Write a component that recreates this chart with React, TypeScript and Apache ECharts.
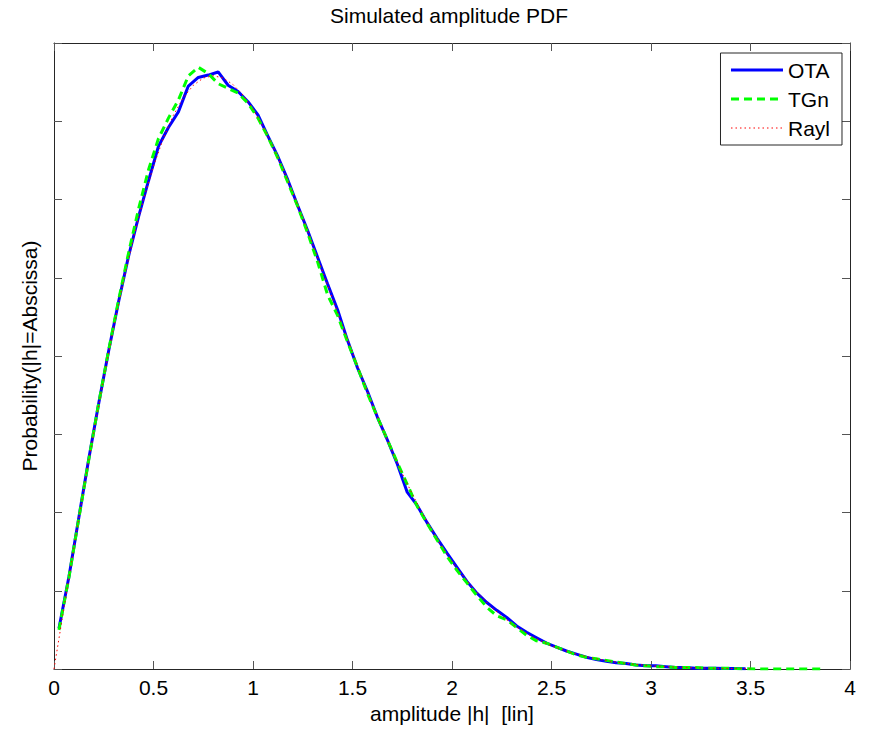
import React, { useEffect, useRef } from "react";
import * as echarts from "echarts";

const titleText = "Simulated amplitude PDF";
const xAxisName = "amplitude |h|  [lin]";
const yAxisName = "Probability(|h|=Abscissa)";
const seriesNames = ["OTA", "TGn", "Rayl"];
const xTickMin = 0;
const xTickMax = 4;
const xTickStep = 0.5;
const yTickMin = 0;
const yTickMax = 0.8;
const yTickStep = 0.1;

const otaX = [
  0.025, 0.075, 0.125, 0.175, 0.225, 0.275, 0.325, 0.375, 0.425, 0.475,
  0.525, 0.575, 0.625, 0.675, 0.725, 0.775, 0.825, 0.875, 0.925, 0.975,
  1.025, 1.075, 1.125, 1.175, 1.225, 1.275, 1.325, 1.375, 1.425, 1.475,
  1.525, 1.575, 1.625, 1.675, 1.725, 1.775, 1.825, 1.875, 1.925, 1.975,
  2.025, 2.075, 2.125, 2.175, 2.225, 2.275, 2.325, 2.375, 2.425, 2.475,
  2.525, 2.575, 2.625, 2.675, 2.725, 2.775, 2.825, 2.875, 2.925, 2.975,
  3.025, 3.075, 3.125, 3.175, 3.225, 3.275, 3.325, 3.375, 3.425, 3.475,
];
const otaY = [
  0.052, 0.118, 0.194, 0.269, 0.34, 0.407, 0.47, 0.528, 0.578, 0.624,
  0.668, 0.692, 0.712, 0.745, 0.756, 0.759, 0.763, 0.746, 0.738, 0.725,
  0.708, 0.681, 0.655, 0.625, 0.592, 0.56, 0.526, 0.492, 0.459, 0.42,
  0.385, 0.355, 0.322, 0.293, 0.262, 0.226, 0.209, 0.187, 0.167, 0.148,
  0.13, 0.112, 0.097, 0.085, 0.075, 0.066, 0.055, 0.047, 0.04, 0.033,
  0.028, 0.023, 0.019, 0.015, 0.012, 0.01, 0.008, 0.007, 0.005, 0.004,
  0.004, 0.003, 0.002, 0.002, 0.001, 0.001, 0.001, 0.0005, 0.0005, 0.0003,
];

const tgnX = [
  0.025, 0.075, 0.125, 0.175, 0.225, 0.275, 0.325, 0.375, 0.425, 0.475,
  0.525, 0.575, 0.625, 0.675, 0.725, 0.775, 0.825, 0.875, 0.925, 0.975,
  1.025, 1.075, 1.125, 1.175, 1.225, 1.275, 1.325, 1.375, 1.425, 1.475,
  1.525, 1.575, 1.625, 1.675, 1.725, 1.775, 1.825, 1.875, 1.925, 1.975,
  2.025, 2.075, 2.125, 2.175, 2.225, 2.275, 2.325, 2.375, 2.425, 2.475,
  2.525, 2.575, 2.625, 2.675, 2.725, 2.775, 2.825, 2.875, 2.925, 2.975,
  3.025, 3.075, 3.125, 3.175, 3.225, 3.275, 3.325, 3.375, 3.425, 3.475,
  3.525, 3.575, 3.625, 3.675, 3.725, 3.775, 3.825, 3.875,
];
const tgnY = [
  0.05, 0.117, 0.193, 0.268, 0.34, 0.408, 0.472, 0.532, 0.588, 0.638,
  0.678, 0.704, 0.727, 0.758, 0.769, 0.761, 0.748, 0.742, 0.736, 0.723,
  0.704, 0.68, 0.653, 0.622, 0.591, 0.557, 0.52, 0.478, 0.452, 0.418,
  0.386, 0.352, 0.322, 0.293, 0.264, 0.236, 0.208, 0.186, 0.165, 0.144,
  0.126, 0.11, 0.094, 0.079, 0.068, 0.063, 0.053, 0.043, 0.036, 0.033,
  0.028, 0.023, 0.018, 0.015, 0.013, 0.011, 0.009, 0.007, 0.005, 0.004,
  0.003, 0.003, 0.002, 0.002, 0.002, 0.001, 0.001, 0.001, 0.0005, 0.0003,
  0, 0, 0, 0, 0, 0, 0, 0,
];

const raylX = [
  0, 0.05, 0.1, 0.15, 0.2, 0.25, 0.3, 0.35, 0.4, 0.45,
  0.5, 0.55, 0.6, 0.65, 0.7, 0.75, 0.8, 0.85, 0.9, 0.95,
  1.0, 1.05, 1.1, 1.15, 1.2, 1.25, 1.3, 1.35, 1.4, 1.45,
  1.5, 1.55, 1.6, 1.65, 1.7, 1.75, 1.8, 1.85, 1.9, 1.95,
  2.0, 2.1, 2.2, 2.3, 2.4, 2.5, 2.6, 2.7, 2.8, 2.9,
  3.0, 3.1, 3.2, 3.3, 3.4, 3.5,
];
const raylY = [
  0, 0.078, 0.155, 0.2303, 0.3029, 0.372, 0.4369, 0.497, 0.5516, 0.6002,
  0.6426, 0.6785, 0.7077, 0.7301, 0.7459, 0.7552, 0.7582, 0.7553, 0.7468, 0.7334,
  0.7154, 0.6933, 0.6678, 0.6395, 0.6087, 0.5762, 0.5425, 0.5079, 0.4731, 0.4384,
  0.4042, 0.3707, 0.3383, 0.3073, 0.2778, 0.2499, 0.2238, 0.1994, 0.1769, 0.1562,
  0.1373, 0.1047, 0.0784, 0.0576, 0.0417, 0.0296, 0.0207, 0.0142, 0.0096, 0.0064,
  0.0041, 0.0027, 0.0017, 0.001, 0.0006, 0.0003,
];

const FONT = "'Liberation Sans', Arial, Helvetica, sans-serif";
const AXIS_COLOR = "#262626";

function pairs(xs: number[], ys: number[]) {
  return xs.map((x, i) => [x, ys[i]]);
}

export default function App() {
  const ref = useRef<HTMLDivElement>(null);
  useEffect(() => {
    if (!ref.current) return;
    const chart = echarts.init(ref.current, undefined, { renderer: "svg" });
    const axisCommon = {
      type: "value" as const,
      axisLine: { show: true, onZero: false, lineStyle: { color: AXIS_COLOR, width: 1 } },
      axisTick: { show: true, inside: true, length: 8, lineStyle: { color: "#555", width: 1 } },
      splitLine: { show: false },
    };
    chart.setOption({
      animation: false,
      backgroundColor: "#fff",
      textStyle: { fontFamily: FONT },
      title: {
        text: titleText,
        left: 330,
        top: 5,
        padding: 0,
        textStyle: { fontFamily: FONT, fontSize: 21, fontWeight: "normal", color: "#000" },
      },
      legend: {
        orient: "vertical",
        right: 27,
        top: 53,
        padding: [6, 12, 6, 9],
        itemGap: 7,
        itemWidth: 52,
        itemHeight: 14,
        borderColor: "#262626",
        borderWidth: 1,
        backgroundColor: "#fff",
        itemStyle: { opacity: 0 },
        textStyle: { fontFamily: FONT, fontSize: 21, color: "#000", lineHeight: 22, padding: [0, 0, 0, 0] },
        data: [
          { name: seriesNames[0], lineStyle: { width: 3 } },
          { name: seriesNames[1], lineStyle: { width: 3 } },
          { name: seriesNames[2], lineStyle: { width: 1 } },
        ],
      },
      grid: { left: 54, right: 19, top: 43, bottom: 61, containLabel: false },
      xAxis: [
        {
          ...axisCommon,
          position: "bottom",
          min: xTickMin,
          max: xTickMax,
          interval: xTickStep,
          name: xAxisName,
          nameLocation: "middle",
          nameGap: 33,
          nameTextStyle: { fontFamily: FONT, fontSize: 21, color: "#000" },
          axisLabel: { show: true, margin: 8, fontFamily: FONT, fontSize: 21, color: "#000" },
        },
        {
          ...axisCommon,
          position: "top",
          min: xTickMin,
          max: xTickMax,
          interval: xTickStep,
          axisLabel: { show: false },
        },
      ],
      yAxis: [
        {
          ...axisCommon,
          position: "left",
          min: yTickMin,
          max: yTickMax,
          interval: yTickStep,
          name: yAxisName,
          nameLocation: "middle",
          nameGap: 14,
          nameTextStyle: { fontFamily: FONT, fontSize: 21, color: "#000" },
          axisLabel: { show: false },
        },
        {
          ...axisCommon,
          position: "right",
          min: yTickMin,
          max: yTickMax,
          interval: yTickStep,
          axisLabel: { show: false },
        },
      ],
      series: [
        {
          name: seriesNames[0],
          type: "line",
          xAxisIndex: 0,
          yAxisIndex: 0,
          data: pairs(otaX, otaY),
          symbol: "none",
          showSymbol: false,
          color: "#0000ff",
          lineStyle: { color: "#0000ff", width: 3 },
        },
        {
          name: seriesNames[1],
          type: "line",
          xAxisIndex: 0,
          yAxisIndex: 0,
          data: pairs(tgnX, tgnY),
          symbol: "none",
          showSymbol: false,
          color: "#00ff00",
          lineStyle: { color: "#00ff00", width: 3, type: [8, 5] },
        },
        {
          name: seriesNames[2],
          type: "line",
          xAxisIndex: 0,
          yAxisIndex: 0,
          data: pairs(raylX, raylY),
          symbol: "none",
          showSymbol: false,
          color: "#ff0000",
          lineStyle: { color: "#ff0000", width: 1, type: [1.5, 3] },
        },
      ],
    });
    return () => chart.dispose();
  }, []);
  return (
    <div
      ref={ref}
      style={{ position: "fixed", left: 0, top: 0, width: 869, height: 730, background: "#fff" }}
    />
  );
}
